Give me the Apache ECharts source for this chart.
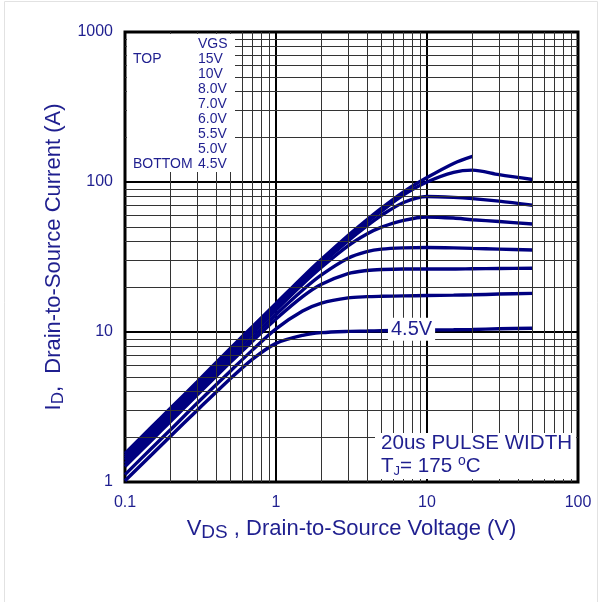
<!DOCTYPE html>
<html>
<head>
<meta charset="utf-8">
<script src="https://cdn.jsdelivr.net/npm/echarts@6/dist/echarts.min.js"></script>
<style>
  html, body { margin: 0; padding: 0; background: #fff; }
  #main { width: 603px; height: 602px; }
</style>
</head>
<body>
<div id="main"></div>
<script>
// V_DS sample points (V)
const vds = [0.1, 0.15, 0.2, 0.3, 0.5, 0.7, 1, 1.5, 2, 3, 4, 5, 7, 10, 15, 20, 30, 50];

// I_D (A) for each VGS
const id15 = [1.55, 2.33, 3.1, 4.65, 7.8, 10.9, 15.5, 23.2, 30.5, 44, 56, 67, 86, 107, 133, 148];
const id10 = [1.5, 2.25, 3.0, 4.5, 7.5, 10.5, 15, 22.4, 29.5, 42.5, 54, 64, 82, 100, 116, 120, 112, 104];
const id8 = [1.45, 2.17, 2.9, 4.35, 7.25, 10.1, 14.5, 21.6, 28.5, 40.5, 51, 60, 73, 80, 79, 77.5, 74.5, 70];
const id7 = [1.4, 2.1, 2.8, 4.2, 7.0, 9.8, 14, 20.8, 27, 37.5, 45, 50, 55.5, 58.5, 57.5, 56, 54.5, 52.5];
const id6 = [1.33, 2.0, 2.65, 4.0, 6.6, 9.2, 13.1, 19, 24, 31, 34.3, 35.7, 36.4, 36.6, 36.4, 36.1, 35.7, 35.2];
const id55 = [1.27, 1.9, 2.53, 3.8, 6.3, 8.7, 12.2, 17.2, 20.8, 24.5, 25.7, 26.1, 26.3, 26.3, 26.3, 26.4, 26.5, 26.6];
const id5 = [1.12, 1.68, 2.23, 3.35, 5.5, 7.6, 10.5, 13.8, 15.6, 16.9, 17.2, 17.3, 17.4, 17.5, 17.6, 17.7, 17.9, 18.1];
const id45 = [1.02, 1.52, 2.02, 3.0, 4.9, 6.6, 8.4, 9.5, 9.9, 10.1, 10.15, 10.2, 10.25, 10.3, 10.35, 10.4, 10.5, 10.6];

const vgsNames = ['15V', '10V', '8.0V', '7.0V', '6.0V', '5.5V', '5.0V', '4.5V'];
const curves = [id15, id10, id8, id7, id6, id55, id5, id45];

// minor grid lines (2..9 of each decade)
const xMinor = [0.2, 0.3, 0.4, 0.5, 0.6, 0.7, 0.8, 0.9, 2, 3, 4, 5, 6, 7, 8, 9, 20, 30, 40, 50, 60, 70, 80, 90];
const yMinor = [2, 3, 4, 5, 6, 7, 8, 9, 20, 30, 40, 50, 60, 70, 80, 90, 200, 300, 400, 500, 600, 700, 800, 900];

// legend block text
const legendLines = ['VGS', '15V', '10V', '8.0V', '7.0V', '6.0V', '5.5V', '5.0V', '4.5V'];

// where the "4.5V" tag sits (V, A)
const tag45 = [7.9, 10.45];

const navy = '#000080';
const txt = '#1f1f8f';
const font = 'Liberation Sans';

let myChart = echarts.init(document.getElementById('main'));

let series = curves.map((vals, k) => ({
    name: vgsNames[k],
    type: 'line',
    data: vals.map((y, i) => [vds[i], y]),
    smooth: 0.3,
    symbol: 'none',
    z: 3,
    lineStyle: { color: navy, width: 3.4 }
}));

// 4.5V tag on its own curve
series[7].markPoint = {
    symbol: 'rect',
    symbolSize: 1,
    itemStyle: { color: 'rgba(0,0,0,0)' },
    label: {
        show: true,
        position: 'inside',
        formatter: '4.5V',
        fontFamily: font,
        fontSize: 20,
        color: txt,
        backgroundColor: '#fff',
        padding: [2, 3, 1, 3]
    },
    data: [{ coord: tag45 }]
};

// minor grid
series.push({
    type: 'line',
    data: [],
    z: 1,
    markLine: {
        silent: true,
        symbol: 'none',
        animation: false,
        label: { show: false },
        lineStyle: { color: '#333', width: 1, type: 'solid' },
        data: xMinor.map(v => ({ xAxis: v })).concat(yMinor.map(v => ({ yAxis: v })))
    }
});

let legendTexts = legendLines.map((s, i) => ({
    type: 'text',
    x: 198,
    y: 44 + i * 15,
    z: 60,
    style: { text: s, font: '14px "' + font + '"', fill: txt, verticalAlign: 'middle' }
}));

const tickFmt = v => String(+Number(v).toPrecision(3));

let option = {
    animation: false,
    backgroundColor: '#fff',
    grid: {
        left: 125, right: 25, top: 32, bottom: 120,
        show: true,
        borderColor: '#000',
        borderWidth: 3,
        backgroundColor: 'transparent'
    },
    xAxis: {
        type: 'log',
        logBase: 10,
        min: 0.1,
        max: 100,
        name: '{a|V}{s|DS}{a| , Drain-to-Source Voltage (V)}',
        nameLocation: 'middle',
        nameGap: 34,
        nameTextStyle: {
            rich: {
                a: { fontFamily: font, fontSize: 22, color: txt, lineHeight: 26 },
                s: { fontFamily: font, fontSize: 19, color: txt, lineHeight: 9, verticalAlign: 'bottom' }
            }
        },
        axisLine: { show: false },
        axisTick: { show: false },
        axisLabel: { color: txt, fontFamily: font, fontSize: 16, margin: 13, formatter: tickFmt },
        splitLine: { show: true, lineStyle: { color: '#000', width: 2 } }
    },
    yAxis: {
        type: 'log',
        logBase: 10,
        min: 1,
        max: 1000,
        name: '{a|I}{s|D}{a|,  Drain-to-Source Current (A)}',
        nameLocation: 'middle',
        nameGap: 48,
        nameTextStyle: {
            rich: {
                a: { fontFamily: font, fontSize: 22, color: txt, lineHeight: 26 },
                s: { fontFamily: font, fontSize: 17, color: txt, lineHeight: 6, verticalAlign: 'bottom' }
            }
        },
        axisLine: { show: false },
        axisTick: { show: false },
        axisLabel: { color: txt, fontFamily: font, fontSize: 16, margin: 12, formatter: tickFmt },
        splitLine: { show: true, lineStyle: { color: '#000', width: 2 } }
    },
    graphic: [
        // faint outer frame
        {
            type: 'rect', z: 0, silent: true,
            shape: { x: 4.5, y: 1.5, width: 593, height: 640 },
            style: { fill: 'none', stroke: '#e2e2e2', lineWidth: 1 }
        },
        // white boxes over the grid
        { type: 'rect', z: 50, shape: { x: 127, y: 34, width: 108, height: 138 }, style: { fill: '#fff' } },
        { type: 'rect', z: 50, shape: { x: 375, y: 433, width: 201, height: 46 }, style: { fill: '#fff' } },
        {
            type: 'text', x: 133, y: 59, z: 60,
            style: { text: 'TOP', font: '14px "' + font + '"', fill: txt, verticalAlign: 'middle' }
        },
        {
            type: 'text', x: 133, y: 164, z: 60,
            style: { text: 'BOTTOM', font: '14px "' + font + '"', fill: txt, verticalAlign: 'middle' }
        },
        ...legendTexts,
        {
            type: 'text', x: 381, y: 443, z: 60,
            style: { text: '20us PULSE WIDTH', font: '20.6px "' + font + '"', fill: txt, verticalAlign: 'middle' }
        },
        {
            type: 'text', x: 381, y: 466, z: 60,
            style: {
                text: '{t|T}{j|J}{t|= 175 }{o|o}{t|C}',
                verticalAlign: 'middle',
                rich: {
                    t: { fontFamily: font, fontSize: 20.6, fill: txt, lineHeight: 24 },
                    j: { fontFamily: font, fontSize: 13, fill: txt, lineHeight: 16, verticalAlign: 'bottom' },
                    o: { fontFamily: font, fontSize: 14, fill: txt, lineHeight: 16, verticalAlign: 'top' }
                }
            }
        }
    ],
    series: series
};

myChart.setOption(option);
</script>
</body>
</html>
